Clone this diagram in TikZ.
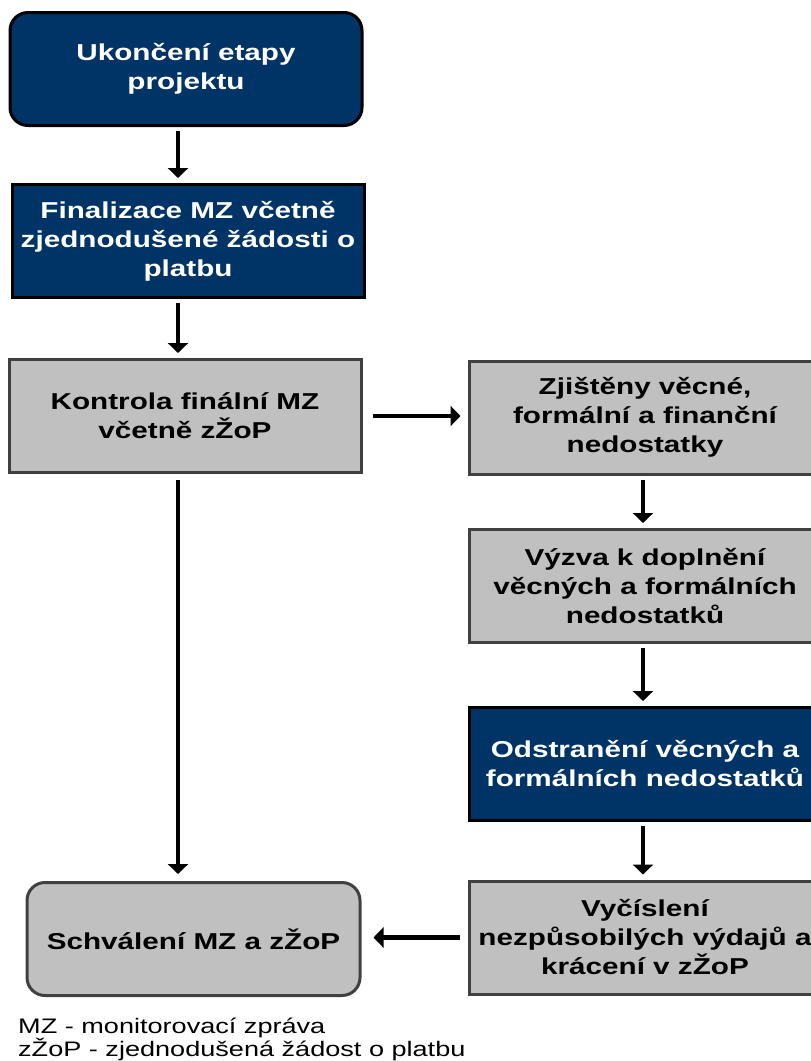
\documentclass[tikz,border=0pt]{standalone}
\usepackage{fontspec}
\setmainfont[FakeStretch=1.29]{Liberation Sans}
\usetikzlibrary{arrows.meta,positioning}
\definecolor{mznavy}{RGB}{0,51,102}
\definecolor{mzgray}{RGB}{192,192,192}
\definecolor{mzedge}{RGB}{64,64,64}

\begin{document}
\begin{tikzpicture}[
  x=1pt,y=-1pt,
  box/.style={minimum width=352pt, minimum height=113pt, inner sep=0pt, align=center,
    line width=3pt, font=\bfseries\fontsize{23}{29}\selectfont},
  navybox/.style={box, fill=mznavy, draw=black, text=white},
  graybox/.style={box, fill=mzgray, draw=mzedge},
  arr/.style={line width=4.2pt, -{Triangle[width=20pt,length=10pt]}, shorten <=4pt, shorten >=5pt},
  legend/.style={anchor=base west, inner sep=0pt, font=\fontsize{21}{23}\selectfont}
]
\useasboundingbox (0,0) rectangle (811,1061);

% left column
\node[navybox, rounded corners=18pt] (ukonceni) at (186,69) {Ukončení etapy\\projektu};
\node[navybox] (finalizace) at (188,241) {Finalizace MZ včetně\\zjednodušené žádosti o\\platbu};
\node[graybox] (kontrola) at (185,416) {Kontrola finální MZ\\včetně zŽoP};
\node[graybox, rounded corners=18pt, minimum width=333pt] (schvaleni) at (193.5,939) {Schválení MZ a zŽoP};

% right column
\node[graybox] (zjisteny) at (645,417.5) {Zjištěny věcné,\\formální a finanční\\nedostatky};
\node[graybox] (vyzva) at (645,586) {Výzva k doplnění\\věcných a formálních\\nedostatků};
\node[navybox] (odstraneni) at (645,764) {Odstranění věcných a\\formálních nedostatků};
\node[graybox] (vycisleni) at (645,937.5) {Vyčíslení\\nezpůsobilých výdajů a\\krácení v zŽoP};

\coordinate (leftlane) at (178,0);
\coordinate (rightlane) at (643,0);

\draw[arr] (ukonceni.south -| leftlane) -- (finalizace.north -| leftlane);
\draw[arr] (finalizace.south -| leftlane) -- (kontrola.north -| leftlane);
\draw[arr, shorten <=6pt, shorten >=7pt] (kontrola.south -| leftlane) -- (schvaleni.north -| leftlane);
\draw[arr, shorten <=10pt, shorten >=7pt] (kontrola.east) -- (kontrola.east -| zjisteny.west);
\draw[arr] (zjisteny.south -| rightlane) -- (vyzva.north -| rightlane);
\draw[arr] (vyzva.south -| rightlane) -- (odstraneni.north -| rightlane);
\draw[arr] (odstraneni.south -| rightlane) -- (vycisleni.north -| rightlane);
\draw[arr, shorten <=8pt, shorten >=12pt] (vycisleni.west) -- (vycisleni.west -| schvaleni.east);

% legend
\node[legend] (legmz) at (18,1033) {MZ - monitorovací zpráva};
\node[legend] (legzop) at (18,1056) {zŽoP - zjednodušená žádost o platbu};
\end{tikzpicture}
\end{document}
